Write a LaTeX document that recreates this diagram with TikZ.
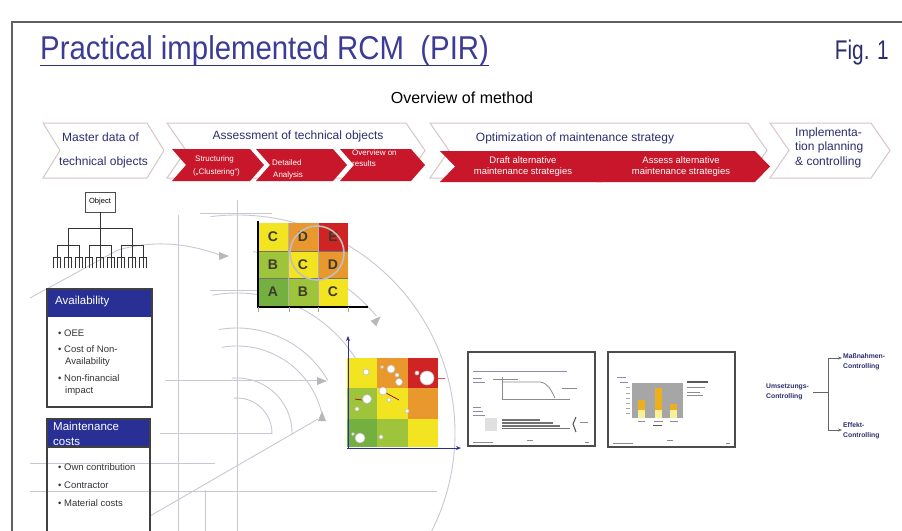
\documentclass[tikz,border=0pt]{standalone}
\usepackage{fontspec}
\setmainfont{Liberation Sans}
\newfontfamily\titlefont[FakeStretch=0.89]{Liberation Sans}
\newfontfamily\figfont[FakeStretch=0.77]{Liberation Sans}
\usetikzlibrary{arrows.meta}

\definecolor{navy}{RGB}{43,46,110}
\definecolor{hdrblue}{RGB}{40,48,150}
\definecolor{titleblue}{RGB}{60,60,150}
\definecolor{rcmred}{RGB}{200,22,42}
\definecolor{chevline}{RGB}{215,198,198}
\definecolor{cyel}{RGB}{242,228,32}
\definecolor{corg}{RGB}{232,152,45}
\definecolor{cred}{RGB}{208,36,36}
\definecolor{clgr}{RGB}{158,196,60}
\definecolor{cgrn}{RGB}{115,176,64}
\definecolor{bgln}{RGB}{200,200,212}
\definecolor{frame}{RGB}{95,95,100}
\definecolor{barorg}{RGB}{236,176,30}
\definecolor{barpale}{RGB}{250,240,150}

% chevron: style, x left, y top, x tip, y bottom, pointer depth
\newcommand{\chevshape}[6]{%
  \path[#1] (#2,#3) -- ({#4-#6},#3) -- (#4,{(#3+#5)/2}) -- ({#4-#6},#5)
    -- (#2,#5) -- ({#2+#6},{(#3+#5)/2}) -- cycle;}
% faint arc around the drawing centre: visual start angle, end angle, radius
\newcommand{\bgarc}[3]{%
  \draw[bgline] ([shift={({-(#1)}:#3)}]237,433) arc[start angle={-(#1)}, end angle={-(#2)}, radius=#3];}
% small grey triangle marker: position, visual direction
\newcommand{\bgtip}[2]{%
  \fill[bgtri, shift={#1}, rotate={-(#2)}] (-5,-4) -- (5,0) -- (-5,4) -- cycle;}

\tikzset{
  whitechev/.style={draw=chevline, fill=white, line width=1pt},
  redchev/.style={fill=rcmred},
  chevtxt/.style={font=\fontsize{12}{14.5}\selectfont, text=navy, inner sep=0pt},
  redtxt/.style={font=\fontsize{8}{11}\selectfont, text=white, inner sep=0pt},
  redtxtb/.style={font=\fontsize{9.5}{11}\selectfont, text=white, inner sep=0pt, align=center},
  bgline/.style={draw=bgln, line width=0.9pt},
  bgtri/.style={fill=black!28},
  treeline/.style={draw=black!80, line width=0.9pt},
  boxframe/.style={draw=black!75, line width=1.2pt},
  hdrtxt/.style={font=\fontsize{11.5}{14}\selectfont, text=white, inner sep=0pt, align=left},
  bultxt/.style={font=\fontsize{9.5}{12}\selectfont, text=black!80, inner sep=0pt, align=left},
  abctxt/.style={font=\bfseries\fontsize{14}{14}\selectfont, text=black!75!olive, inner sep=0pt},
  slide/.style={draw=black!70, line width=1.2pt, fill=white},
  slidetxt/.style={draw=navy!55, line width=1pt},
  slidegry/.style={draw=black!45, line width=0.8pt},
  ctrltxt/.style={font=\bfseries\fontsize{6.8}{9.5}\selectfont, text=navy, inner sep=1pt, align=left},
  ctrlline/.style={draw=black!60, line width=0.9pt},
  dot/.style={fill=white, draw=black!25, line width=0.6pt}
}

\begin{document}
\begin{tikzpicture}[x=1pt, y=-1pt]
\useasboundingbox (0,0) rectangle (902,530);
\fill[white] (0,0) rectangle (902,530);

% ---------- page frame ----------
\draw[frame, line width=1.6pt] (12,540) -- (12,22) -- (910,22);

% ---------- heading ----------
\node[anchor=base west, inner sep=0pt, text=titleblue, font=\titlefont\fontsize{33}{36}\selectfont]
  (title) at (40,59) {Practical implemented RCM\ \ (PIR)};
\draw[titleblue!80!black, line width=1pt] (title.base west) ++(0,6) coordinate (ul1) -- (title.base east |- ul1);
\node[anchor=base east, inner sep=0pt, text=navy, font=\figfont\fontsize{27}{30}\selectfont]
  (fig) at (889,59) {Fig. 1};
\node[inner sep=0pt, font=\fontsize{16}{18}\selectfont] (ovw) at (462,98) {Overview of method};

% ---------- background construction lines ----------
\draw[bgline] (178,215) -- (178,540);
\draw[bgline] (237,200) -- (237,540);
\draw[bgline] (205,490) -- (205,540);
\draw[bgline] (160,433) -- (272,433);
\draw[bgline] (30,463) -- (215,463);
\draw[bgline] (30,491) -- (437,491);
\draw[bgline] (165,380) -- (318,380);
\draw[bgline] (30,298) -- (118,250) .. controls (160,238) and (195,246) .. (220,255);
\draw[bgline] (150,516) -- (318,419);
\draw[bgline] (200,213) -- (272,213);
\draw[bgline] (210,290) -- (262,290);
\bgarc{95}{-2}{35}
\bgarc{95}{-2}{55}
\bgarc{100}{14}{87}
\bgarc{100}{30}{105}
\bgarc{100}{25}{140}
\bgarc{85}{40}{182}
\bgarc{97}{-38}{218}
\bgtip{(224,256)}{0}
\bgtip{(377,320)}{-45}
\bgtip{(322,381)}{0}
\bgtip{(322,416)}{-90}

% ---------- process chevrons ----------
\chevshape{whitechev}{43}{123}{164}{178}{17}
\chevshape{whitechev}{167}{123}{425}{178}{19}
\chevshape{whitechev}{430}{123}{767}{178}{19}
\chevshape{whitechev}{770}{123}{890}{178}{19}
\chevshape{redchev}{172}{149}{264}{181}{14}
\chevshape{redchev}{256}{149}{347}{181}{14}
\chevshape{redchev}{340}{149}{425}{181}{14}
\chevshape{redchev}{440}{151}{617}{182}{15}
\chevshape{redchev}{596}{151}{770}{182}{15}

\node[chevtxt, anchor=west] (md1) at (62,137) {Master data of};
\node[chevtxt, anchor=west] (md2) at (59,162) {technical objects};
\node[chevtxt] (ass) at (298,136) {Assessment of technical objects};
\node[chevtxt] (opt) at (575,138) {Optimization of maintenance strategy};
\node[chevtxt, anchor=west, align=left] (impl) at (795,147.5) {Implementa-\\tion planning\\\& controlling};

\node[redtxt, anchor=west] (st1) at (195,159) {Structuring};
\node[redtxt, anchor=west] (st2) at (193,172) {(„Clustering“)};
\node[redtxt, anchor=west] (da1) at (272,163) {Detailed};
\node[redtxt, anchor=west] (da2) at (273,175) {Analysis};
\node[redtxt, anchor=west] (or1) at (352,153) {Overview on};
\node[redtxt, anchor=west] (or2) at (352,164) {results};
\node[redtxtb] (dr) at (523,167) {Draft alternative\\maintenance strategies};
\node[redtxtb] (asx) at (681,167) {Assess alternative\\maintenance strategies};

% ---------- object hierarchy ----------
\node[draw=black!70, line width=0.9pt, minimum width=30pt, minimum height=20pt, inner sep=0pt,
      font=\fontsize{7.5}{8}\selectfont] (obj) at (100,202) {Object};
\coordinate (t0) at (100,228);
\draw[treeline] (obj.south) -- (t0);
\draw[treeline] (68,228) -- (132,228);
\foreach \g in {68,100,132} {
  \draw[treeline] (\g,228) -- (\g,245);
  \draw[treeline] ({\g-11},245) -- ({\g+11},245);
  \foreach \d in {-11,0,11} {
    \draw[treeline] ({\g+\d},245) -- ({\g+\d},257);
    \draw[treeline, line width=0.7pt] ({\g+\d-3.5},257) -- ({\g+\d+3.5},257);
    \foreach \e in {-3.5,0,3.5}
      \draw[treeline, line width=0.7pt] ({\g+\d+\e},257) -- ({\g+\d+\e},268);
  }
}

% ---------- availability box ----------
\fill[hdrblue] (47,289) rectangle (152,317);
\draw[boxframe] (47,289) rectangle (152,407);
\node[hdrtxt, anchor=west] (avh) at (55,302) {Availability};
\node[bultxt, anchor=west] (av1) at (58,333) {• OEE};
\node[bultxt, anchor=north west] (av2) at (58,345) {• Cost of Non-\\\hspace*{7pt}Availability};
\node[bultxt, anchor=north west] (av3) at (58,374) {• Non-financial\\\hspace*{7pt}impact};

% ---------- maintenance cost box ----------
\fill[hdrblue] (47,419) rectangle (150,447);
\draw[boxframe] (47,540) -- (47,419) -- (150,419) -- (150,540);
\draw[boxframe] (47,447) -- (150,447);
\node[hdrtxt, anchor=north west, font=\fontsize{11.5}{15}\selectfont] (mch) at (53,421.5) {Maintenance\\costs};
\node[bultxt, anchor=west] (mc1) at (58,467) {• Own contribution};
\node[bultxt, anchor=west] (mc2) at (58,485) {• Contractor};
\node[bultxt, anchor=west] (mc3) at (58,503) {• Material costs};

% ---------- ABC criticality matrix ----------
\fill[cyel] (258,223) rectangle (288,251);
\fill[corg] (288,223) rectangle (318,251);
\fill[cred] (318,223) rectangle (348,251);
\fill[clgr] (258,251) rectangle (288,278);
\fill[cyel] (288,251) rectangle (318,278);
\fill[corg] (318,251) rectangle (348,278);
\fill[cgrn] (258,278) rectangle (288,306);
\fill[clgr] (288,278) rectangle (318,306);
\fill[cyel] (318,278) rectangle (348,306);
\draw[black!55, line width=0.8pt] (258,251) -- (348,251) (258,278) -- (348,278);
\draw[black!30, line width=0.5pt] (288,223) -- (288,306) (318,223) -- (318,306);
\node[abctxt] (m11) at (273,237) {C};
\node[abctxt] (m12) at (303,237) {D};
\node[abctxt] (m13) at (333,237) {E};
\node[abctxt] (m21) at (273,264.5) {B};
\node[abctxt] (m22) at (303,264.5) {C};
\node[abctxt] (m23) at (333,264.5) {D};
\node[abctxt] (m31) at (273,292) {A};
\node[abctxt] (m32) at (303,292) {B};
\node[abctxt] (m33) at (333,292) {C};
\draw[black!25, line width=1.6pt] (317,253) circle[radius=27];
\draw[black, line width=2.4pt] (258,221) -- (258,307) -- (368,307);
\foreach \x in {258,289,318,348} \draw[black!35, line width=0.6pt] (\x,307) -- (\x,312);

% ---------- portfolio matrix ----------
\fill[cyel] (347,358) rectangle (377,388);
\fill[corg] (377,358) rectangle (408,388);
\fill[cred] (408,358) rectangle (438,388);
\fill[clgr] (347,388) rectangle (377,419);
\fill[cyel] (377,388) rectangle (408,419);
\fill[corg] (408,388) rectangle (438,419);
\fill[cgrn] (347,419) rectangle (377,447);
\fill[clgr] (377,419) rectangle (408,447);
\fill[cyel] (408,419) rectangle (438,447);
\draw[hdrblue, line width=1pt, -{Stealth[length=5pt,width=4pt]}] (348,448) -- (348,336);
\draw[hdrblue, line width=1pt, -{Stealth[length=5pt,width=4pt]}] (347,448) -- (461,448);
\draw[red!70!black, line width=0.7pt] (362,400) -- (355,399);
\draw[red!60!black, line width=0.7pt] (386,393) -- (399,400);
\draw[red!70, line width=0.7pt] (438,378) -- (445,378);
\foreach \p/\r in {(366,372)/3, (391,369)/4, (397,375)/2, (399,382)/3.5, (427,378)/7, (417,373)/2,
                   (383,391)/4, (367,399)/4.5, (357,409)/2, (389,400)/2, (407,411)/2,
                   (360,438)/5, (381,437)/2, (353,434)/1.5, (382,367)/1.5}
  \draw[dot] \p circle[radius=\r];

% ---------- slide: availability trend ----------
\draw[slide] (468,352) rectangle (595,446);
\draw[slidetxt] (473,371) -- (567,371);
\draw[slidetxt] (473,378) -- (482,378) (473,382) -- (485,382);
\draw[slidegry] (502,377) -- (502,399) -- (570,399);
\draw[slidegry] (493,379) -- (518,379);
\draw[slidegry] (503,382) -- (540,382) .. controls (548,383) and (551,390) .. (555,398);
\draw[slidegry] (562,388) -- (577,388);
\draw[slidetxt] (473,407) -- (481,407) (473,411) -- (483,411) (473,415) -- (485,415);
\fill[black!12] (485,418) rectangle (497,431);
\foreach \y/\xe in {420/540, 423/553, 426/560, 428.5/570}
  \draw[black!55, line width=1.2pt] (502,\y) -- (\xe,\y);
\draw[black!70, line width=1pt] (576,417) -- (573,424) -- (576,432);
\draw[slidegry] (580,422) -- (588,422);
\draw[slidegry] (473,442) -- (493,442) (527,440) -- (533,440) (585,442) -- (589,442);

% ---------- slide: cost chart ----------
\draw[slide] (608,352) rectangle (735,447);
\draw[slidetxt] (617,377) -- (626,377) (620,382) -- (628,382);
\fill[black!35] (632,383) rectangle (683,418);
\foreach \y in {387,393,398,403,408,413} \draw[black!35, line width=0.6pt] (626,\y) -- (630,\y);
\fill[barorg] (638,400) rectangle (645,410);
\fill[barpale] (638,410) rectangle (645,418);
\fill[barorg] (655,388) rectangle (662,410);
\fill[barpale] (655,410) rectangle (662,418);
\fill[barorg] (670,404) rectangle (677,410);
\fill[barpale] (670,410) rectangle (677,418);
\draw[slidegry] (638,421) -- (645,421) (654,421) -- (663,421) (670,421) -- (678,421);
\draw[black!65, line width=1pt] (653,425) -- (662,425);
\draw[black!65, line width=1.2pt] (687,382) -- (708,382);
\draw[slidegry] (687,387) -- (705,387) (687,392) -- (700,392) (687,395) -- (703,395);
\draw[slidegry] (613,443) -- (633,443) (667,440) -- (673,440) (726,443) -- (730,443);

% ---------- controlling tree ----------
\node[ctrltxt, anchor=west] (um) at (765,392) {Umsetzungs-\\Controlling};
\node[ctrltxt, anchor=west] (mn) at (842,362) {Maßnahmen-\\Controlling};
\node[ctrltxt, anchor=west] (ef) at (842,431) {Effekt-\\Controlling};
\coordinate (fork) at (828,392);
\draw[ctrlline] ([xshift=3pt]um.east) -- (fork);
\draw[ctrlline, -{Stealth[length=4pt,width=3pt]}] (fork) |- ([yshift=4pt]mn.west);
\draw[ctrlline, -{Stealth[length=4pt,width=3pt]}] (fork) |- ([yshift=1pt]ef.west);
\end{tikzpicture}
\end{document}
